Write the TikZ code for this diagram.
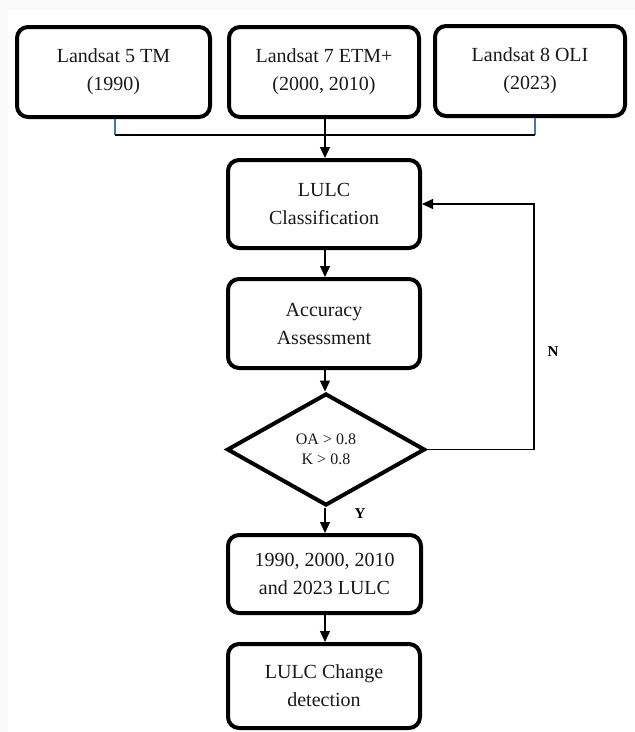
\documentclass[tikz,border=0pt]{standalone}
\usepackage{fontspec}
\setmainfont{Liberation Serif}
\usetikzlibrary{shapes.geometric,arrows.meta}
\definecolor{connblue}{HTML}{4472C4}
\begin{document}
\begin{tikzpicture}[x=1pt,y=-1pt,
  box/.style={draw=black,line width=4pt,rounded corners=11pt,fill=white,align=center,
    font=\fontsize{20}{28}\selectfont,inner sep=0pt,text=black!90},
  decision/.style={draw=black,line width=4pt,shape=diamond,fill=white,align=center,
    font=\fontsize{16}{20}\selectfont,inner sep=0pt,aspect=1.75,text=black!90},
  conn/.style={line width=1.1pt,draw=black},
  arr/.style={conn,-{Triangle[length=11pt,width=10pt]}},
  lbl/.style={font=\fontsize{15}{18}\selectfont\bfseries,text=black}]
\useasboundingbox (0,0) rectangle (635,732);
\clip (0,0) rectangle (635,732);
\fill[gray!5] (0,0) rectangle (635,732);
\fill[white] (8,10) rectangle (635,732);

\node[box,minimum width=193pt,minimum height=90pt] (l5) at (113.5,72) {Landsat 5 TM\\(1990)};
\node[box,minimum width=190pt,minimum height=90pt] (l7) at (324,72) {Landsat 7 ETM+\\(2000, 2010)};
\node[box,minimum width=190pt,minimum height=90pt] (l8) at (530,71) {Landsat 8 OLI\\(2023)};
\node[box,minimum width=192pt,minimum height=88pt] (cls) at (324,204) {LULC\\Classification};
\node[box,minimum width=192pt,minimum height=89pt] (acc) at (324,323.5) {Accuracy\\Assessment};
\node[decision,minimum width=198pt,minimum height=112pt] (dia) at (326,449.5) {OA \textgreater{} 0.8\\K \textgreater{} 0.8};
\node[box,minimum width=193pt,minimum height=78pt] (maps) at (324.5,574) {1990, 2000, 2010\\and 2023 LULC};
\node[box,minimum width=192pt,minimum height=84pt] (chg) at (324,686) {LULC Change\\detection};

\coordinate (j1) at (115,135);
\coordinate (j3) at (535,135);
\coordinate (fb) at (534,300);

\draw[conn,draw=connblue] (l5.south -| j1) -- (j1);
\draw[conn,draw=connblue] (l8.south -| j3) -- (j3);
\draw[conn] (j1) -- (j3);
\draw[arr] (l7.south -| 325,0) -- (cls.north -| 325,0);
\draw[arr] (cls.south -| 325,0) -- (acc.north -| 325,0);
\draw[arr] (acc.south -| 325,0) -- (dia.north -| 325,0);
\draw[arr] (dia.south -| 325,0) -- (maps.north -| 325,0);
\draw[arr] (maps.south -| 325,0) -- (chg.north -| 325,0);
\draw[arr] (dia.east) -| (fb) |- (cls.east);

\node[lbl] (nlab) at (553,352) {N};
\node[lbl] (ylab) at (360,514) {Y};
\end{tikzpicture}
\end{document}
